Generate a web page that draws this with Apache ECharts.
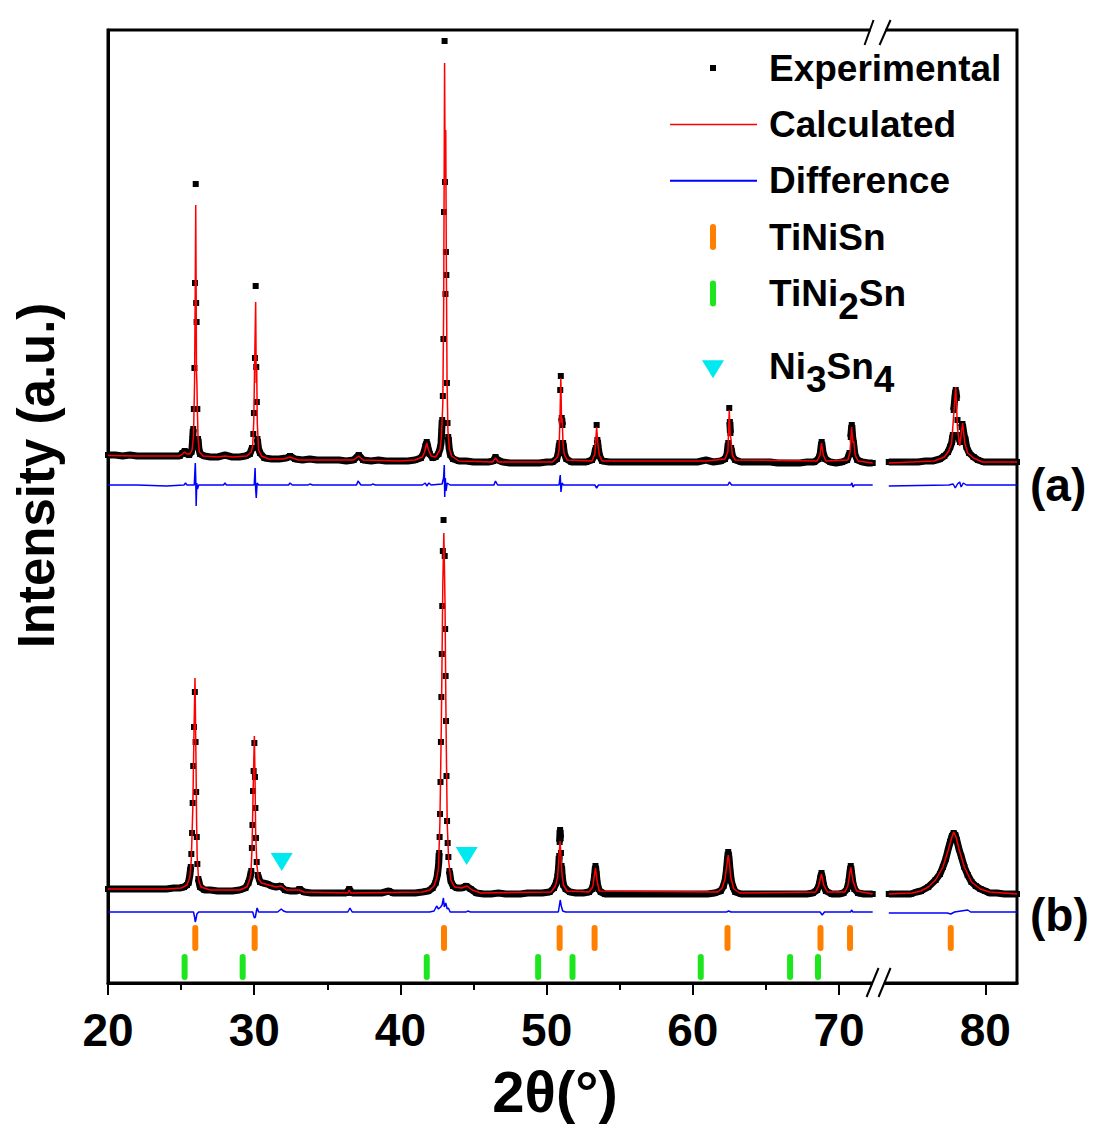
<!DOCTYPE html>
<html>
<head>
<meta charset="utf-8">
<script src="https://cdn.jsdelivr.net/npm/echarts@6/dist/echarts.min.js"></script>
<style>html,body{margin:0;padding:0;background:#fff}#chart{width:1101px;height:1126px}</style>
</head>
<body>
<div id="chart"></div>
<script>
// ---------------- DATA (2θ in degrees, intensity in arbitrary units) ----------------
const expA = [[20.0,528],[20.5,528],[21.0,527],[21.5,528],[22.0,527],[22.5,527],[23.0,527],[23.5,527],[24.0,527],[24.5,527],[24.9,527],[25.1,530],[25.25,532],[25.4,529],[25.55,528],[25.7,531],
[25.75,535],[25.79,544],[25.83,554],[25.87,574],[25.91,615],[25.95,700],[26.00,799],[26.03,680],[26.06,661],[26.11,574],[26.16,544],[26.21,535],[26.3,529],
[26.6,527],[27.0,526],[27.5,526],[28.0,528],[28.5,526],[29.0,526],[29.4,527],[29.7,529],[29.85,535],
[29.94,549],[29.98,570],[30.05,625],[30.10,697],[30.14,616],[30.18,581],[30.22,544],[30.28,535],[30.4,530],
[30.7,525],[31.2,524],[31.7,524],[32.2,525],[32.45,527],[32.8,524],[33.3,523],[33.8,524],[34.3,523],[34.8,523],[35.3,523],[35.8,523],[36.3,522],[36.8,523],[37.15,528],[37.45,523],[38.0,522],[38.5,523],[39.0,522],[39.5,522],[40.0,522],[40.5,522],[41.0,523],[41.4,525],[41.6,530],[41.72,537],[41.8,541],[41.88,536],[42.0,529],[42.2,525],[42.4,526],[42.6,529],[42.72,535],
[42.78,540],[42.82,551],[42.86,563],[42.90,587],[42.94,644],[42.98,771],[43.02,942],[43.05,801],[43.08,689],[43.11,731],[43.14,708],[43.18,600],[43.22,560],[43.27,546],[43.33,535],[43.42,528],
[43.6,524],[44.0,522],[44.5,522],[45.0,521],[45.5,521],[46.0,521],[46.35,522],[46.5,526],[46.65,523],[47.0,521],[47.5,520],[48.0,520],[48.5,520],[49.0,520],[49.5,520],[50.0,521],[50.4,521],[50.7,524],
[50.82,532],[50.88,540],[50.93,593],[50.97,607],[51.03,565],[51.08,558],[51.13,540],[51.2,530],[51.35,524],
[51.7,521],[52.2,521],[52.7,521],[53.1,523],[53.25,527],[53.36,535],[53.42,558],[53.47,543],[53.53,535],[53.62,527],[53.8,522],
[54.3,521],[54.8,521],[55.3,521],[55.8,521],[56.3,521],[56.8,521],[57.3,521],[57.8,521],[58.3,521],[58.8,521],[59.3,521],[59.8,521],[60.3,521],[60.9,523],[61.4,521],[61.9,522],[62.2,524],[62.34,529],
[62.42,540],[62.49,575],[62.53,561],[62.57,550],[62.62,535],[62.7,527],[62.9,523],
[63.3,521],[63.8,521],[64.3,521],[64.8,521],[65.3,521],[65.8,520],[66.3,520],[66.8,520],[67.3,520],[67.8,521],[68.3,521],[68.6,524],[68.72,530],[68.81,541],[68.9,531],[69.05,524],[69.4,521],[69.8,520],[70.2,521],[70.55,523],[70.72,530],[70.8,546],[70.87,558],[70.93,546],[70.99,540],[71.08,529],[71.25,523],[71.6,521],[72.0,520],[72.3,520],
null,
[73.4,521],[73.9,521],[74.4,521],[74.9,521],[75.4,521],[75.9,522],[76.4,522],[76.9,524],[77.2,527],[77.45,531],[77.6,536],[77.72,541],[77.78,548],[77.84,573],[77.92,585],[77.98,593],[78.05,585],[78.1,563],[78.16,548],[78.27,541],[78.38,556],[78.44,559],[78.55,548],[78.63,544],[78.72,536],[78.9,530],[79.2,526],[79.5,523],[79.9,521],[80.4,521],[80.9,521],[81.4,521],[81.9,521],[82.17,521]];

const calcA = [[20,527.5],[22,527],[24,527],[24.9,527],[25.1,529],[25.25,531],[25.4,529],[25.6,529],[25.75,533],[25.85,548],[25.92,600],[25.97,700],[26.00,778],[26.03,690],[26.05,612],[26.08,600],[26.11,575],[26.16,545],[26.25,531],[26.5,527],[27.5,526],[28.0,527],[28.5,526],[29.5,527],[29.8,531],[29.9,538],[29.97,562],[30.03,620],[30.10,681],[30.14,600],[30.17,615],[30.21,560],[30.3,533],[30.5,527],[31,524],[32,524],[32.45,526],[33,523],[35,523],[36.8,523],[37.15,527],[37.45,523],[40,522],[41.0,523],[41.5,526],[41.65,531],[41.8,540],[41.92,533],[42.1,527],[42.4,526],[42.7,533],[42.8,545],[42.9,580],[42.96,680],[43.02,920],[43.06,800],[43.1,853],[43.14,720],[43.19,600],[43.25,552],[43.35,534],[43.5,527],[44,522],[46.3,521],[46.5,525],[46.7,521],[50.4,521],[50.75,526],[50.85,533],[50.92,570],[50.97,605],[51.02,560],[51.06,565],[51.12,540],[51.2,529],[51.4,523],[53.1,522],[53.3,529],[53.42,556],[53.5,540],[53.6,528],[53.8,522],[60.9,522],[62.2,524],[62.4,532],[62.49,573],[62.55,548],[62.6,545],[62.7,528],[62.9,523],[68.5,522],[68.7,528],[68.8,540],[68.92,528],[69.1,522],[70.6,523],[70.75,531],[70.86,556],[70.95,540],[71.0,542],[71.1,528],[71.3,522],[72.3,520],
null,
[73.4,520],[76.5,522],[77.2,526],[77.5,532],[77.7,540],[77.85,570],[77.98,596],[78.1,555],[78.25,537],[78.45,560],[78.6,540],[78.8,530],[79.2,525],[79.8,521],[82.17,521]];

const diffA = [[20,498],[22,498],[24,497],[25.2,498],[25.3,500],[25.4,498],[25.9,498],[25.97,520],[26.0,505],[26.03,477],[26.07,500],[26.12,494],[26.2,498],[27.9,498],[28.0,500],[28.1,498],[30.0,498],[30.06,515],[30.1,494],[30.14,485],[30.2,500],[30.3,498],[32.35,498],[32.45,500],[32.6,498],[33.7,498],[33.8,499],[34,498],[37.0,498],[37.1,502],[37.3,498],[38.0,498],[38.1,499],[38.3,498],[41.5,498],[41.7,500],[41.8,497],[41.95,500],[42.1,498],[42.85,499],[42.95,505],[43.0,518],[43.03,486],[43.07,505],[43.12,492],[43.2,500],[43.4,498],[46.4,498],[46.5,502],[46.65,498],[50.85,498],[50.93,508],[50.98,491],[51.05,500],[51.15,498],[53.3,498],[53.42,495],[53.55,498],[62.4,498],[62.5,501],[62.65,498],[70.8,498],[70.88,500],[70.95,496],[71.05,498],[72.3,498],
null,
[73.4,497],[77.5,498],[77.8,499],[77.95,495],[78.1,499],[78.25,501],[78.35,496],[78.5,500],[78.7,498],[82.17,498]];

const expB = [[20.0,94],[20.5,94],[21.0,94],[21.5,94],[22.0,94],[22.5,94],[23.0,94],[23.5,94],[24.0,94],[24.5,95],[24.9,95],[25.2,96],[25.4,98],[25.5,100],[25.6,108],
[25.66,116],[25.70,129],[25.75,150],[25.79,180],[25.83,217],[25.88,256],[25.94,291],[25.99,241],[26.03,191],[26.07,146],[26.11,119],[26.18,104],[26.3,96],
[26.6,93],[27.0,93],[27.5,92],[28.0,92],[28.5,92],[29.0,93],[29.4,95],[29.6,100],[29.72,106],
[29.80,112],[29.84,135],[29.88,158],[29.92,192],[29.96,212],[30.01,240],[30.05,206],[30.08,175],[30.12,145],[30.17,121],[30.25,108],[30.4,101],[30.6,100],[30.9,99],[31.2,97],[31.5,96],[31.8,97],[32.1,93],[32.5,92],[32.9,92],[33.1,94],[33.4,91],[33.9,90],[34.4,90],[34.9,90],[35.4,90],[35.9,90],[36.3,90],[36.5,94],[36.7,90],[37.2,90],[37.7,90],[38.2,90],[38.7,90],[39.2,92],[39.5,90],[40.0,90],[40.5,90],[41.0,90],[41.5,91],[41.9,92],[42.2,95],[42.4,100],[42.5,106],
[42.55,110],[42.62,120],[42.65,130],[42.68,146],[42.71,169],[42.74,201],[42.77,241],[42.80,286],[42.83,329],[42.86,377],[42.90,432],[42.95,463],[43.03,427],[43.06,354],[43.09,307],[43.12,262],[43.15,207],[43.19,162],[43.23,140],[43.28,126],[43.35,112],[43.45,102],[43.6,97],[43.85,95],[44.2,95],[44.5,97],[44.8,94],[45.2,90],[45.7,89],[46.2,89],[46.7,90],[47.2,89],[47.7,89],[48.2,89],[48.7,90],[49.2,90],[49.7,90],[50.2,91],[50.5,95],[50.65,100],
[50.75,106],[50.82,115],[50.86,127],[50.89,141],[50.92,153],[50.95,145],[50.98,130],[51.02,117],[51.07,106],[51.15,98],[51.3,94],[51.6,91],[52.0,90],[52.5,90],[52.9,91],[53.1,94],[53.2,99],[53.27,106],[53.34,117],[53.4,109],[53.46,100],[53.55,94],[53.7,91],[54.0,89],[54.5,89],[55.0,89],[55.5,89],[56.0,89],[56.5,89],[57.0,89],[57.5,89],[58.0,89],[58.5,89],[59.0,89],[59.5,89],[60.0,89],[60.5,89],[61.0,89],[61.5,90],[61.9,92],[62.1,97],[62.22,104],[62.3,113],[62.36,123],[62.42,131],[62.48,124],[62.55,112],[62.63,102],[62.75,96],[62.9,91],[63.3,89],[63.8,89],[64.3,89],[64.8,89],[65.3,89],[65.8,89],[66.3,89],[66.8,89],[67.3,89],[67.8,89],[68.2,90],[68.5,93],[68.65,99],[68.73,105],[68.8,110],[68.87,104],[68.96,97],[69.1,92],[69.5,89],[70.0,89],[70.3,90],[70.55,94],[70.66,101],[70.74,110],[70.8,117],[70.86,110],[70.94,101],[71.05,94],[71.3,90],[71.7,89],[72.3,89],
null,
[73.4,89],[73.9,89],[74.4,89],[74.9,89],[75.3,91],[75.6,92],[76.1,96],[76.6,103],[76.9,109],[77.1,116],[77.3,124],[77.45,133],[77.6,141],[77.72,147],[77.84,150],[77.95,148],[78.05,143],[78.2,134],[78.35,127],[78.57,116],[78.8,108],[79.06,101],[79.35,97],[79.67,94],[80.0,92],[80.3,90],[80.8,90],[81.3,89],[81.8,89],[82.17,89]];

const calcB = [[20,94],[24,94],[25,95],[25.4,98],[25.6,106],[25.7,124],[25.8,175],[25.88,250],[25.95,305],[26.02,220],[26.06,160],[26.1,125],[26.2,103],[26.35,96],[27,93],[29,93],[29.5,96],[29.7,104],[29.78,110],[29.85,135],[29.93,195],[30.01,247],[30.06,200],[30.1,150],[30.18,118],[30.3,104],[30.5,100],[31.0,98],[31.5,96],[31.85,97],[32.2,93],[33.1,93],[33.4,91],[36.4,90],[36.5,93],[36.6,90],[41.5,91],[42.0,93],[42.3,97],[42.5,106],[42.6,115],[42.7,160],[42.8,260],[42.9,400],[42.97,450],[43.05,380],[43.12,260],[43.2,160],[43.3,122],[43.45,103],[43.7,96],[44.2,95],[44.55,97],[44.9,93],[45.5,90],[50.3,91],[50.6,97],[50.75,106],[50.84,125],[50.92,142],[50.98,127],[51.05,109],[51.15,98],[51.4,92],[52.9,91],[53.15,96],[53.34,115],[53.45,102],[53.6,92],[61.7,91],[62.0,95],[62.2,104],[62.3,115],[62.42,128],[62.5,120],[62.6,105],[62.8,94],[63.2,90],[68.4,91],[68.6,97],[68.8,109],[68.95,98],[69.2,91],[70.4,91],[70.6,97],[70.8,116],[70.95,102],[71.2,92],[72.3,89],
null,
[73.4,89],[75,90],[75.6,92],[76.1,96],[76.6,103],[77.1,116],[77.45,132],[77.7,145],[77.84,151],[78.0,146],[78.2,134],[78.57,116],[79.06,101],[79.67,94],[80.3,91],[82.17,89]];

const diffB = [[20,71],[25.0,71],[25.85,71],[25.92,66],[25.97,61],[26.02,64],[26.08,69],[26.2,71],[29.9,71],[29.97,67],[30.02,65],[30.08,66],[30.15,72],[30.2,75],[30.3,71],[31.6,71],[31.85,74],[32.0,72],[32.2,71],[36.4,71],[36.55,75],[36.7,71],[42.0,71],[42.3,72],[42.48,77],[42.6,74],[42.75,76],[42.85,78],[42.94,85],[43.0,76],[43.1,80],[43.2,74],[43.28,75],[43.4,71],[44.5,71],[44.6,72],[44.8,71],[50.8,71],[50.9,80],[50.93,83],[51.0,77],[51.1,72],[51.3,71],[62.3,71],[62.45,72],[62.6,71],[68.7,71],[68.85,68],[69.0,71],[70.8,71],[70.85,73],[70.95,71],[72.3,71],
null,
[73.4,70],[77.4,70],[77.64,69],[77.9,71],[78.8,73],[79.0,71],[82.17,71]];

// Bragg reflection positions (2θ)
const tinisnPeaks  = [25.97, 30.03, 42.98, 50.89, 53.28, 62.37, 68.73, 70.75, 77.64];
const tini2snPeaks = [25.24, 29.21, 41.80, 49.42, 51.77, 60.54, 66.65, 68.56];
const ni3sn4Peaks  = [[31.88, 121], [44.53, 127]];
const tinisnRow = 45, tini2snRow = 16;

// axis ticks / labels
const tickLabels = [20, 30, 40, 50, 60, 70, 80];
const majorTicks = [20, 30, 40, 50, 60, 70, 80];
const minorTicks = [25, 35, 45, 55, 65];
const X_MIN = 20, X_MAX = 82.17, Y_MIN = 0, Y_MAX = 953;
const BREAK_AT = 72.7;

// ---------------- helpers ----------------
const FONT = '"Liberation Sans", Arial, Helvetica, sans-serif';
const GAP_X = 72.85;
function lineData(arr) { return arr.map(p => p === null ? [GAP_X, null] : p); }
function pointData(arr) { return arr.filter(p => p !== null); }
// continuous dark band where neighbouring points overlap
function bandData(arr, jump) {
  const out = []; let prev = null;
  arr.forEach(p => {
    if (p === null) { out.push([GAP_X, null]); prev = null; return; }
    if (prev && Math.abs(p[1] - prev[1]) > jump) out.push([(p[0] + prev[0]) / 2, null]);
    out.push(p); prev = p;
  });
  return out;
}

const BAR = 'path://M0,3A3,3,0,0,1,6,3L6,23A3,3,0,0,1,0,23Z';
const TRI = 'path://M0,0L22,0L11,18Z';
const ORANGE = '#ff8000', GREEN = '#1ee61e', CYAN = '#00e8f0';

const ICON_EXP  = 'path://M0,0M94,70M40,32L46,32L46,38L40,38Z';
const ICON_CALC = 'path://M0,0M94,70M0,34.2L87,34.2L87,35.8L0,35.8Z';
const ICON_DIFF = 'path://M0,0M94,70M0,34L87,34L87,36L0,36Z';
const ICON_BAR  = 'path://M0,0M94,70M40,25A3,3,0,0,1,46,25L46,45A3,3,0,0,1,40,45Z';
const ICON_TRI  = 'path://M0,0M94,70M32,28.7L54,28.7L43,46.7Z';

const rich = {
  n: { fontSize: 37, fontWeight: 'bold', fontFamily: FONT, color: '#000' },
  s: { fontSize: 37, fontWeight: 'bold', fontFamily: FONT, color: '#000', padding: [26, 0, 0, 0] }
};
function legendAt(top, name, icon, fmt) {
  return {
    left: 670, top: top, orient: 'vertical', padding: 0,
    itemWidth: 94, itemHeight: 70, selectedMode: false,
    itemStyle: { borderWidth: 0, opacity: 1 },
    textStyle: { fontSize: 37, fontWeight: 'bold', fontFamily: FONT, color: '#000', rich: rich },
    formatter: fmt || '{name}',
    data: [{ name: name, icon: icon }]
  };
}

const chart = echarts.init(document.getElementById('chart'), null, { renderer: 'svg' });

const option = {
  animation: false,
  backgroundColor: '#ffffff',
  grid: { left: 108, right: 84, top: 30, bottom: 143, show: true, borderColor: '#000', borderWidth: 3, backgroundColor: 'transparent' },
  xAxis: [{
    type: 'value', min: X_MIN, max: X_MAX, interval: 10,
    axisLine: { show: true, lineStyle: { color: '#000', width: 3 } },
    axisTick: { show: true, length: 12, lineStyle: { color: '#000', width: 2 }, customValues: majorTicks },
    axisLabel: { customValues: tickLabels, margin: 24, fontSize: 46, fontWeight: 'bold', fontFamily: FONT, color: '#000' },
    splitLine: { show: false },
    name: '2θ(°)', nameLocation: 'middle', nameGap: 79,
    nameTextStyle: { fontSize: 58, fontWeight: 'bold', fontFamily: FONT, color: '#000', padding: [0, 15, 0, 0] }
  }, {
    type: 'value', min: X_MIN, max: X_MAX, position: 'bottom', interval: 10,
    axisLine: { show: false },
    axisLabel: { show: false },
    splitLine: { show: false },
    axisTick: { show: true, length: 7, lineStyle: { color: '#000', width: 2 }, customValues: minorTicks }
  }],
  yAxis: {
    type: 'value', min: Y_MIN, max: Y_MAX,
    axisLine: { show: true, lineStyle: { color: '#000', width: 3 } },
    axisTick: { show: false }, axisLabel: { show: false }, splitLine: { show: false },
    name: 'Intensity (a.u.)', nameLocation: 'middle', nameGap: 46,
    nameTextStyle: { fontSize: 51, fontWeight: 'bold', fontFamily: FONT, color: '#000', padding: [0, 0, 0, 62] }
  },
  legend: [
    legendAt(33, 'Experimental', ICON_EXP),
    legendAt(89.5, 'Calculated', ICON_CALC),
    legendAt(145.7, 'Difference', ICON_DIFF),
    legendAt(202, 'TiNiSn', ICON_BAR),
    legendAt(258.5, 'TiNi2Sn', ICON_BAR, () => '{n|TiNi}{s|2}{n|Sn}'),
    legendAt(331.5, 'Ni3Sn4', ICON_TRI, () => '{n|Ni}{s|3}{n|Sn}{s|4}')
  ],
  series: [
    { type: 'line', name: 'Experimental', data: bandData(expA, 12), symbol: 'none', showSymbol: false, color: '#000',
      lineStyle: { color: '#000', width: 7 }, itemStyle: { color: '#000' }, z: 1, silent: true, connectNulls: false },
    { type: 'scatter', name: 'Experimental', data: pointData(expA), symbol: 'rect', symbolSize: 6, itemStyle: { color: '#000', opacity: 1 }, z: 2, silent: true },
    { type: 'line', name: 'Calculated', data: lineData(calcA), symbol: 'none', showSymbol: false, color: '#ff0000',
      lineStyle: { color: '#ff0000', width: 1.5 }, itemStyle: { color: '#ff0000' }, z: 3, silent: true },
    { type: 'line', name: 'Difference', data: lineData(diffA), symbol: 'none', showSymbol: false, color: '#0000ff',
      lineStyle: { color: '#0000ff', width: 1.5 }, itemStyle: { color: '#0000ff' }, z: 3, silent: true },

    { type: 'line', name: 'Experimental', data: bandData(expB, 12), symbol: 'none', showSymbol: false, color: '#000',
      lineStyle: { color: '#000', width: 7 }, itemStyle: { color: '#000' }, z: 1, silent: true, connectNulls: false },
    { type: 'scatter', name: 'Experimental', data: pointData(expB), symbol: 'rect', symbolSize: 6, itemStyle: { color: '#000', opacity: 1 }, z: 2, silent: true },
    { type: 'line', name: 'Calculated', data: lineData(calcB), symbol: 'none', showSymbol: false, color: '#ff0000',
      lineStyle: { color: '#ff0000', width: 1.5 }, itemStyle: { color: '#ff0000' }, z: 3, silent: true },
    { type: 'line', name: 'Difference', data: lineData(diffB), symbol: 'none', showSymbol: false, color: '#0000ff',
      lineStyle: { color: '#0000ff', width: 1.5 }, itemStyle: { color: '#0000ff' }, z: 3, silent: true },

    { type: 'scatter', name: 'TiNiSn', data: tinisnPeaks.map(x => [x, tinisnRow]), symbol: BAR, symbolSize: [6, 26],
      itemStyle: { color: ORANGE, opacity: 1 }, color: ORANGE, z: 4, silent: true },
    { type: 'scatter', name: 'TiNi2Sn', data: tini2snPeaks.map(x => [x, tini2snRow]), symbol: BAR, symbolSize: [6, 26],
      itemStyle: { color: GREEN, opacity: 1 }, color: GREEN, z: 4, silent: true },
    { type: 'scatter', name: 'Ni3Sn4', data: ni3sn4Peaks, symbol: TRI, symbolSize: [22, 18],
      itemStyle: { color: CYAN, opacity: 1 }, color: CYAN, z: 4, silent: true }
  ]
};
chart.setOption(option);

// axis-break marks and panel labels
const bx = chart.convertToPixel({ xAxisIndex: 0 }, BREAK_AT);
const yTop = chart.convertToPixel({ yAxisIndex: 0 }, Y_MAX);
const yBot = chart.convertToPixel({ yAxisIndex: 0 }, Y_MIN);
const slash = (x1, y1, x2, y2) => ({ type: 'line', z: 200, silent: true, shape: { x1, y1, x2, y2 }, style: { stroke: '#000', lineWidth: 2 } });
chart.setOption({
  graphic: [
    { type: 'rect', z: 199, silent: true, shape: { x: bx - 8, y: yTop - 3, width: 15, height: 6 }, style: { fill: '#fff' } },
    { type: 'rect', z: 199, silent: true, shape: { x: bx - 6, y: yBot - 3, width: 12, height: 6 }, style: { fill: '#fff' } },
    slash(bx - 14, yTop + 15, bx - 5, yTop - 10),
    slash(bx + 1, yTop + 15, bx + 12, yTop - 10),
    slash(bx - 12, yBot + 14, bx, yBot - 15),
    slash(bx, yBot + 14, bx + 12, yBot - 15),
    { type: 'text', z: 200, silent: true, style: { text: '(a)', x: 1030, y: 485, verticalAlign: 'middle', fontSize: 46, fontWeight: 'bold', fontFamily: FONT, fill: '#000' } },
    { type: 'text', z: 200, silent: true, style: { text: '(b)', x: 1030, y: 915, verticalAlign: 'middle', fontSize: 46, fontWeight: 'bold', fontFamily: FONT, fill: '#000' } }
  ]
});
</script>
</body>
</html>
